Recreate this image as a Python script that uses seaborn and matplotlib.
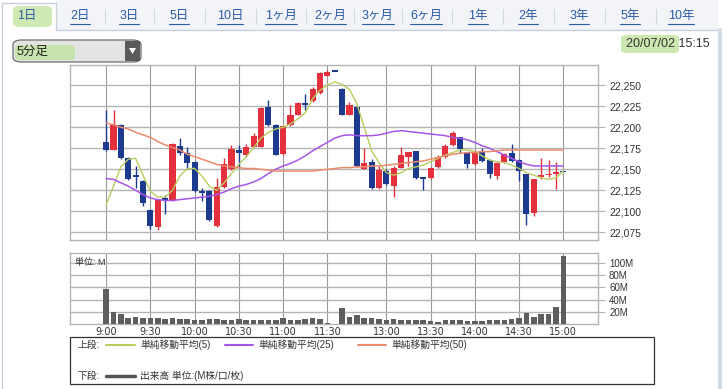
import numpy as np
import pandas as pd
import seaborn as sns
import matplotlib.pyplot as plt
from matplotlib.patches import Rectangle, FancyBboxPatch, Polygon
from matplotlib.lines import Line2D

W, H = 727, 389

# 5-minute bars, slots 0..62 (slot 31 = lunch break close)
opens = [22182, 22173, 22203, 22164, 22143, 22136, 22102, 22081, 22116, 22113,
         22178, 22169, 22159, 22124, 22124, 22083, 22129, 22150, 22173, 22167,
         22177, 22177, 22224, 22203, 22168, 22203, 22215, 22229, 22231, 22241,
         22261, 22266, 22246, 22215, 22224, 22150, 22159, 22128, 22148, 22130,
         22152, 22165, 22172, 22140, 22140, 22153, 22165, 22179, 22188, 22170,
         22156, 22172, 22161, 22142, 22159, 22169, 22161, 22144, 22098, 22141,
         22143, 22144, 22147]
highs = [22220, 22220, 22204, 22165, 22154, 22137, 22103, 22115, 22120, 22181,
         22187, 22177, 22160, 22128, 22125, 22140, 22163, 22179, 22179, 22180,
         22193, 22224, 22232, 22204, 22202, 22226, 22230, 22240, 22248, 22266,
         22268, 22266, 22247, 22230, 22225, 22175, 22162, 22154, 22150, 22154,
         22176, 22171, 22172, 22140, 22153, 22167, 22180, 22195, 22189, 22171,
         22173, 22175, 22162, 22159, 22169, 22180, 22162, 22144, 22139, 22163,
         22161, 22159, 22147]
lows = [22172, 22173, 22162, 22137, 22128, 22106, 22079, 22078, 22097, 22112,
        22167, 22150, 22123, 22112, 22089, 22081, 22128, 22149, 22152, 22165,
        22176, 22176, 22202, 22167, 22167, 22202, 22214, 22220, 22230, 22240,
        22261, 22266, 22214, 22214, 22153, 22150, 22127, 22127, 22131, 22117,
        22151, 22154, 22139, 22125, 22139, 22152, 22164, 22178, 22169, 22152,
        22155, 22159, 22140, 22139, 22158, 22159, 22136, 22084, 22094, 22139,
        22141, 22127, 22147]
closes = [22173, 22203, 22164, 22138, 22141, 22110, 22083, 22114, 22113, 22180,
          22169, 22158, 22124, 22122, 22090, 22129, 22156, 22174, 22169, 22177,
          22190, 22223, 22203, 22167, 22201, 22215, 22229, 22227, 22246, 22264,
          22266, 22266, 22215, 22226, 22154, 22157, 22128, 22149, 22132, 22152,
          22167, 22170, 22140, 22139, 22152, 22165, 22178, 22193, 22174, 22156,
          22169, 22160, 22144, 22158, 22168, 22160, 22148, 22097, 22138, 22143,
          22145, 22147, 22147]

ma5 = [22108, 22130, 22153, 22162, 22163, 22143, 22124, 22117, 22117, 22125,
       22142, 22151, 22151, 22142, 22130, 22125, 22134, 22145, 22156, 22165,
       22176, 22187, 22194, 22198, 22200, 22204, 22210, 22217, 22234, 22244,
       22250, 22254, 22251, 22245, 22228, 22200, 22172, 22158, 22146, 22143,
       22146, 22151, 22153, 22155, 22159, 22163, 22167, 22170, 22173, 22173,
       22171, 22166, 22161, 22159, 22158, 22155, 22151, 22146, 22143, 22140,
       22138, 22140, 22148]
ma25 = [22139, 22138, 22134, 22130, 22125, 22120, 22116, 22114, 22113, 22113,
        22114, 22115, 22116, 22117, 22118, 22120, 22123, 22127, 22130, 22132,
        22135, 22139, 22145, 22150, 22154, 22157, 22161, 22166, 22172, 22177,
        22182, 22187, 22190, 22191, 22190, 22190, 22190, 22191, 22193, 22195,
        22196, 22195, 22194, 22193, 22192, 22191, 22190, 22188, 22187, 22185,
        22182, 22178, 22175, 22171, 22167, 22163, 22159, 22156, 22154, 22154,
        22154, 22154, 22154]
ma50 = [22205, 22203, 22200, 22198, 22194, 22191, 22188, 22183, 22179, 22176,
        22173, 22168, 22165, 22162, 22159, 22156, 22154, 22153, 22152, 22151,
        22151, 22150, 22149, 22148, 22148, 22148, 22148, 22148, 22148, 22149,
        22150, 22151, 22152, 22152, 22153, 22153, 22154, 22154, 22155, 22156,
        22157, 22158, 22159, 22160, 22162, 22164, 22166, 22168, 22169, 22170,
        22170, 22171, 22171, 22172, 22173, 22173, 22173, 22173, 22173, 22173,
        22173, 22173, 22173]

# volume in M (slot 31 has no bar)
volume = [57.7, 19.6, 15.8, 10.3, 12.0, 10.3, 9.2, 9.2, 7.6, 10.3,
          7.6, 7.6, 6.0, 6.0, 7.6, 7.6, 6.0, 6.0, 7.6, 6.0,
          6.0, 6.0, 6.0, 6.0, 9.2, 6.0, 6.0, 7.6, 10.3, 7.6,
          2.2, np.nan, 25.6, 12.0, 14.1, 9.2, 9.2, 7.6, 6.0, 7.6,
          6.0, 6.0, 6.0, 6.0, 4.9, 3.3, 6.0, 6.0, 6.0, 4.9,
          4.9, 4.9, 6.0, 6.0, 6.0, 7.6, 9.2, 18.5, 12.0, 15.8,
          15.8, 28.3, 110.4]

tick_slots = [0, 6, 12, 18, 24, 30, 38, 44, 50, 56, 62]
tick_labels = ['9:00', '9:30', '10:00', '10:30', '11:00', '11:30',
               '13:00', '13:30', '14:00', '14:30', '15:00']
price_ticks = [22075, 22100, 22125, 22150, 22175, 22200, 22225, 22250]
vol_ticks = [20, 40, 60, 80, 100]

tabs = ['1日', '2日', '3日', '5日', '10日', '1ヶ月', '2ヶ月', '3ヶ月', '6ヶ月',
        '1年', '2年', '3年', '5年', '10年']
tab_x = [27, 80, 129, 179, 230, 281, 330, 378, 426, 478, 528, 579, 630, 681]

df = pd.DataFrame({'slot': np.arange(len(opens)), 'open': opens, 'high': highs,
                   'low': lows, 'close': closes, 'ma5': ma5, 'ma25': ma25,
                   'ma50': ma50, 'volume': volume})

sns.set_style('white')
plt.rcParams['font.family'] = ['Liberation Sans', 'Noto Sans CJK JP', 'DejaVu Sans']

RED = '#e3303c'
BLUE = '#1c3a8e'
GRID = '#b4b4b4'
VGRID = '#9a9a9a'


def fx(x):
    return x / W


def fy(y):
    return 1 - y / H


fig = plt.figure(figsize=(W / 100, H / 100), dpi=100)

# ---- page chrome ----
fig.patches.append(Rectangle((fx(56), fy(30)), fx(718 - 56), 30 / H, transform=fig.transFigure,
                             facecolor='#f2f4f8', edgecolor='none', zorder=0))
fig.lines.append(Line2D([fx(56), fx(720)], [fy(30), fy(30)], transform=fig.transFigure, color='#c9d0dc', lw=1))
fig.lines.append(Line2D([fx(56), fx(56)], [fy(3), fy(30)], transform=fig.transFigure, color='#c9d0dc', lw=1))
fig.lines.append(Line2D([fx(2), fx(56)], [fy(3), fy(3)], transform=fig.transFigure, color='#c9d0dc', lw=1))
fig.lines.append(Line2D([fx(2), fx(2)], [fy(3), fy(389)], transform=fig.transFigure, color='#c9d0dc', lw=1))
fig.lines.append(Line2D([fx(719.5), fx(719.5)], [fy(30), fy(389)], transform=fig.transFigure, color='#d6dde9', lw=3))

fig.patches.append(FancyBboxPatch((fx(13), fy(27)), fx(39), 21 / H, boxstyle='round,pad=0,rounding_size=0.01',
                                  transform=fig.transFigure, facecolor='#c4e4a2', edgecolor='none', alpha=0.8))
tab_texts = []
for i, (lab, x) in enumerate(zip(tabs, tab_x)):
    t = fig.text(fx(x), fy(16), lab, ha='center', va='center', fontsize=9,
                 color='#2b5aa6')
    tab_texts.append(t)
    if i > 1:
        sx = (tab_x[i - 1] + x) / 2
        fig.lines.append(Line2D([fx(sx), fx(sx)], [fy(9), fy(24)], transform=fig.transFigure,
                                color='#d3d8e0', lw=0.8))

# dropdown
fig.patches.append(FancyBboxPatch((fx(13), fy(62)), fx(128), 22 / H, boxstyle='round,pad=0,rounding_size=0.012',
                                  transform=fig.transFigure, facecolor='#e4e4e4', edgecolor='#6d6d6d', lw=0.9))
fig.patches.append(FancyBboxPatch((fx(15), fy(60)), fx(60), 15 / H, boxstyle='round,pad=0,rounding_size=0.008',
                                  transform=fig.transFigure, facecolor='#c4e4a2', edgecolor='none', alpha=0.85))
fig.patches.append(Rectangle((fx(125), fy(61)), fx(15), 20 / H, transform=fig.transFigure,
                             facecolor='#5a5a5a', edgecolor='none'))
fig.patches.append(Polygon([[fx(129), fy(48)], [fx(136), fy(48)], [fx(132.5), fy(54)]], closed=True,
                           transform=fig.transFigure, facecolor='white', edgecolor='none'))
fig.text(fx(17), fy(51.5), '5分足', ha='left', va='center', fontsize=9, color='#222222')

# date
fig.patches.append(FancyBboxPatch((fx(621), fy(53)), fx(58), 18 / H, boxstyle='round,pad=0,rounding_size=0.008',
                                  transform=fig.transFigure, facecolor='#c4e4a2', edgecolor='none', alpha=0.85))
fig.text(fx(710), fy(44), '20/07/02 15:15', ha='right', va='center', fontsize=9, color='#333333')

# ---- price panel ----
ax = fig.add_axes([fx(70), fy(240), fx(528), 175 / H])
up = df[df['close'] > df['open']]
down = df[df['close'] <= df['open']]
ax.vlines(up['slot'], up['low'], up['high'], color=RED, lw=1, zorder=3)
ax.vlines(down['slot'], down['low'], down['high'], color=BLUE, lw=1, zorder=3)
ax.bar(up['slot'], np.maximum(up['close'] - up['open'], 1.5), bottom=up['open'],
       width=0.82, color=RED, lw=0, zorder=4)
ax.bar(down['slot'], np.maximum(down['open'] - down['close'], 1.5), bottom=down['close'],
       width=0.82, color=BLUE, lw=0, zorder=4)

sns.lineplot(data=df, x='slot', y='ma5', ax=ax, color='#b9cd5e', lw=1, zorder=5)
sns.lineplot(data=df, x='slot', y='ma25', ax=ax, color='#a656e8', lw=1.1, zorder=5)
sns.lineplot(data=df, x='slot', y='ma50', ax=ax, color='#ee8a6c', lw=1.1, zorder=5)

ax.set_xlim(-4.9, 66.7)
ax.set_ylim(22066, 22274)
ax.set_xticks(tick_slots)
ax.set_yticks(price_ticks)
ax.set_yticklabels([f'{v:,}' for v in price_ticks])
ax.yaxis.tick_right()
ax.tick_params(axis='y', length=5, width=0.8, color=GRID, pad=3, labelsize=7.5, labelcolor='#333333')
ax.tick_params(axis='x', length=0, labelbottom=False)
ax.grid(axis='y', color=GRID, lw=1, zorder=0)
ax.grid(axis='x', color=VGRID, lw=0.8, zorder=0)
ax.set_xlabel('')
ax.set_ylabel('')
for s in ax.spines.values():
    s.set_color(GRID)
    s.set_linewidth(1)

# ---- volume panel ----
axv = fig.add_axes([fx(70), fy(324), fx(528), 71 / H])
vdf = df.dropna(subset=['volume'])
sns.barplot(data=vdf, x='slot', y='volume', native_scale=True, color='#5e5e5e',
            saturation=1, width=0.75, linewidth=0, ax=axv, zorder=3)
axv.set_xlim(-4.9, 66.7)
axv.set_ylim(0, 116)
axv.set_xticks(tick_slots)
axv.set_xticklabels(tick_labels)
axv.set_yticks(vol_ticks)
axv.set_yticklabels([f'{v}M' for v in vol_ticks])
axv.yaxis.tick_right()
axv.tick_params(axis='y', length=5, width=0.8, color=GRID, pad=3, labelsize=7, labelcolor='#333333')
axv.tick_params(axis='x', length=0, pad=2, labelsize=7, labelcolor='#333333')
for lab in axv.get_xticklabels():
    lab.set_family('DejaVu Sans')
axv.grid(axis='y', color=GRID, lw=1, zorder=0)
axv.grid(axis='x', color=VGRID, lw=0.8, zorder=0)
axv.set_xlabel('')
axv.set_ylabel('')
for s in axv.spines.values():
    s.set_color(GRID)
    s.set_linewidth(1)
axv.text(0.01, 0.93, '単位: M', transform=axv.transAxes, ha='left', va='top', fontsize=6.5, color='#333333')

# ---- legend box ----
fig.patches.append(Rectangle((fx(70), fy(384)), fx(584), 47 / H, transform=fig.transFigure,
                             facecolor='white', edgecolor='#333333', lw=0.9))
fig.text(fx(77), fy(345), '上段:', ha='left', va='center', fontsize=7, color='#333333')
fig.text(fx(77), fy(376), '下段:', ha='left', va='center', fontsize=7, color='#333333')
legend_items = [(106, 135, '#b9cd5e', '単純移動平均(5)'),
                (225, 253, '#a656e8', '単純移動平均(25)'),
                (358, 386, '#ee8a6c', '単純移動平均(50)')]
for x0, x1, c, lab in legend_items:
    fig.lines.append(Line2D([fx(x0), fx(x1)], [fy(345), fy(345)], transform=fig.transFigure, color=c, lw=1.5))
    fig.text(fx(x1 + 5), fy(345), lab, ha='left', va='center', fontsize=7, color='#333333')
fig.lines.append(Line2D([fx(106), fx(135)], [fy(376), fy(376)], transform=fig.transFigure, color='#555555', lw=2.5))
fig.text(fx(140), fy(376), '出来高 単位:(M株/口/枚)', ha='left', va='center', fontsize=7, color='#333333')

# underline tab links (all but the active one)
fig.canvas.draw()
r = fig.canvas.get_renderer()
for t in tab_texts[1:]:
    bb = t.get_window_extent(renderer=r)
    fig.lines.append(Line2D([bb.x0 / W, bb.x1 / W], [fy(24), fy(24)], transform=fig.transFigure,
                            color='#2b5aa6', lw=0.8))

fig.savefig('out.png', dpi=100)
